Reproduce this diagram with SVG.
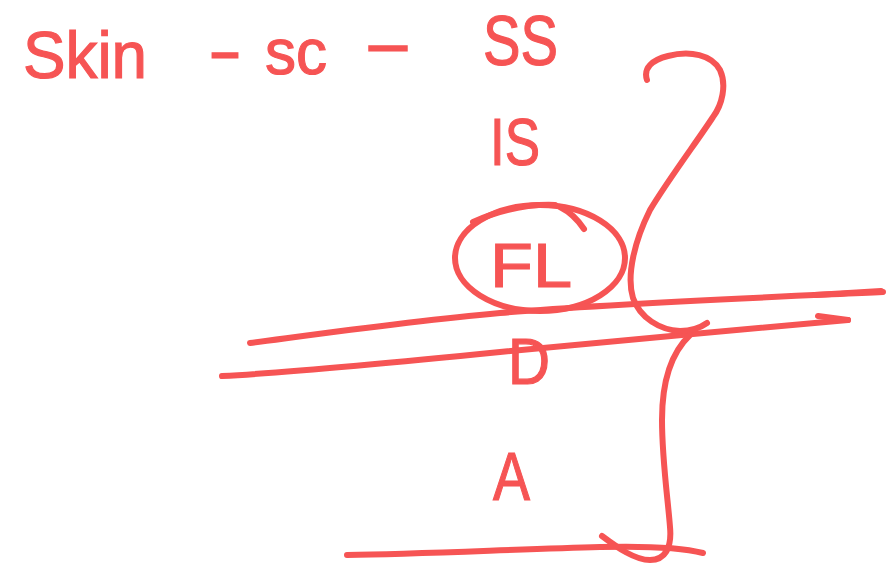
<svg xmlns="http://www.w3.org/2000/svg" width="889" height="564" viewBox="0 0 889 564">
  <style>
    .ink { fill: none; stroke: #F65454; stroke-width: 6; stroke-linecap: round; stroke-linejoin: round; }
    .txt { font-family: "Liberation Sans", Arial, sans-serif; fill: #F65454; stroke: #F65454; stroke-width: 1.2; }
  </style>
  <rect width="889" height="564" fill="#FFFFFF"/>

  <g id="title">
    <text class="txt" x="23" y="78" font-size="66" textLength="124" lengthAdjust="spacingAndGlyphs">Skin</text>
    <text class="txt" x="208" y="73" font-size="64" textLength="34" lengthAdjust="spacingAndGlyphs">-</text>
    <text class="txt" x="265" y="74" font-size="64" textLength="62" lengthAdjust="spacingAndGlyphs">sc</text>
    <text class="txt" x="363" y="66" font-size="64" textLength="50" lengthAdjust="spacingAndGlyphs">-</text>
  </g>

  <g id="node-SS">
    <text class="txt" x="483" y="65" font-size="70" textLength="75" lengthAdjust="spacingAndGlyphs">SS</text>
  </g>
  <g id="node-IS">
    <text class="txt" x="490" y="165" font-size="67" textLength="50" lengthAdjust="spacingAndGlyphs">IS</text>
  </g>
  <g id="node-FL">
    <ellipse class="ink" cx="540" cy="258" rx="85" ry="53"/>
    <path class="ink" d="M473,222 C500,210 530,204 555,205 M560,207 C570,212 578,220 584,229"/>
    <text class="txt" x="490" y="287" font-size="63" textLength="82" lengthAdjust="spacingAndGlyphs">FL</text>
  </g>
  <g id="node-D">
    <text class="txt" x="508" y="384" font-size="64" textLength="42" lengthAdjust="spacingAndGlyphs">D</text>
  </g>
  <g id="node-A">
    <text class="txt" x="493" y="500" font-size="69" textLength="37" lengthAdjust="spacingAndGlyphs">A</text>
  </g>

  <g id="connectors">
    <path class="ink" d="M250,343 C290,338 400,322 500,313 S750,298 883,292"/>
    <path class="ink" stroke-width="9" d="M815,295 L881,291"/>
    <path class="ink" d="M222,376 C300,372 420,360 500,352 S760,328 848,320"/>
    <path class="ink" d="M818,316 L848,320"/>
    <path class="ink" d="M647,80 C643,68 652,60 668,56 C690,50 712,55 720,70 C727,85 722,105 713,117 C698,140 668,180 650,210 C635,240 626,275 633,298 C640,318 660,330 680,331 C692,331 700,328 707,323"/>
    <path class="ink" d="M690,335 C672,352 662,380 662,420 C662,460 668,500 670,527 C672,548 665,560 650,560 C635,560 618,548 602,536"/>
    <path class="ink" d="M347,555 C420,554 520,549 600,547 C640,546 680,547 703,553"/>
  </g>
</svg>
